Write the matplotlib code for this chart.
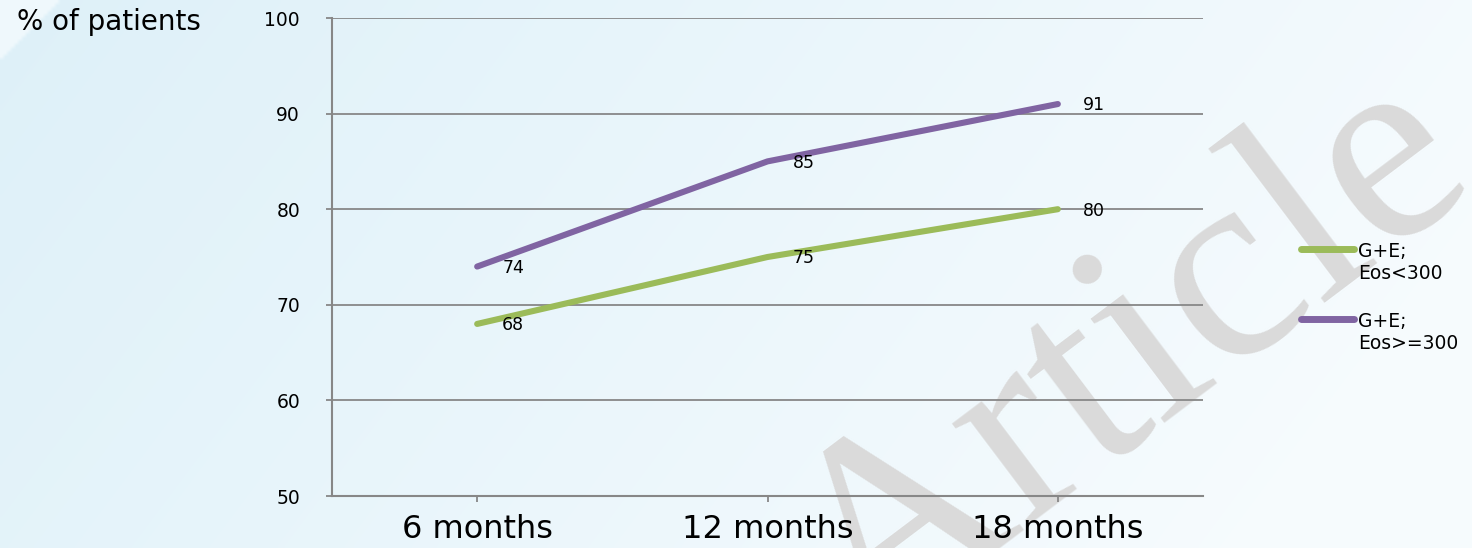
import matplotlib
matplotlib.use("Agg")
import matplotlib.pyplot as plt
import numpy as np

W, H, DPI = 1472, 548, 100

periods = ["6 months", "12 months", "18 months"]
eos_low = [68, 75, 80]
eos_high = [74, 85, 91]
series_names = ["G+E;\nEos<300", "G+E;\nEos>=300"]
yticks = [50, 60, 70, 80, 90, 100]

GREEN = "#9bbb59"
PURPLE = "#8064a2"
GRID = "#878787"
FONT = "DejaVu Sans"


def fx(px):
    return px / W


def fy(py):
    return 1 - py / H


fig = plt.figure(figsize=(W / DPI, H / DPI), dpi=DPI)

# soft blue slide background
bg = fig.add_axes([0, 0, 1, 1], zorder=-10)
xx, yy = np.meshgrid(np.linspace(0, 1, 400), np.linspace(0, 1, 150))
t = np.clip(xx * 0.9 + yy * 0.25, 0, 1)
left = np.array([0.87, 0.943, 0.975])
right = np.array([0.965, 0.985, 0.995])
img = left[None, None, :] * (1 - t[..., None]) + right[None, None, :] * t[..., None]
corner = (xx * W + yy * H) < 58
img[corner] = [0.94, 0.975, 0.99]
bg.imshow(img, aspect="auto", extent=[0, 1, 0, 1], origin="upper", interpolation="bilinear")
bg.set_axis_off()

# watermark
fig.text(fx(1132), fy(362), "Article", family="Liberation Serif", fontsize=200,
         color="#dadada", rotation=37, ha="center", va="center", zorder=-5)

ax = fig.add_axes([fx(332), fy(496), fx(1203) - fx(332), fy(18) - fy(496)], zorder=0)
ax.set_facecolor("none")

x = np.arange(len(periods))
for vals, color in [(eos_low, GREEN), (eos_high, PURPLE)]:
    ax.plot(x, vals, color=color, lw=4.4, solid_capstyle="round", solid_joinstyle="round",
            zorder=3)
    for xi, v in zip(x, vals):
        ax.annotate(str(v), (xi, v), xytext=(18, -1), textcoords="offset points",
                    ha="left", va="center", fontsize=12.5, family=FONT, color="black",
                    zorder=4)

ax.set_xlim(-0.5, 2.5)
ax.set_ylim(50, 100)
ax.set_yticks(yticks)
ax.set_yticklabels([str(v) for v in yticks], family=FONT, fontsize=13.5)
ax.set_xticks(x)
ax.set_xticklabels(periods, family=FONT, fontsize=23)
ax.yaxis.grid(True, color=GRID, lw=1.3)
ax.set_axisbelow(True)

for s in ["top", "right"]:
    ax.spines[s].set_visible(False)
for s in ["left", "bottom"]:
    ax.spines[s].set_color(GRID)
    ax.spines[s].set_linewidth(1.5)

ax.tick_params(axis="y", length=4, width=1.3, color=GRID, pad=19)
ax.tick_params(axis="x", length=4, width=1.3, color=GRID, pad=9)

fig.text(fx(17), fy(8), "% of patients", family=FONT, fontsize=20,
         ha="left", va="top")

# legend drawn by hand so the swatch sits on the first text line
for i, (name, color) in enumerate(zip(series_names, [GREEN, PURPLE])):
    y0 = 249 + i * 70
    fig.add_artist(plt.Line2D([fx(1301), fx(1354)], [fy(y0), fy(y0)], color=color,
                              lw=5, solid_capstyle="round"))
    fig.text(fx(1358), fy(y0 - 7), name, family=FONT, fontsize=13.5,
             ha="left", va="top", linespacing=1.2)

fig.savefig("out.png", dpi=DPI)
